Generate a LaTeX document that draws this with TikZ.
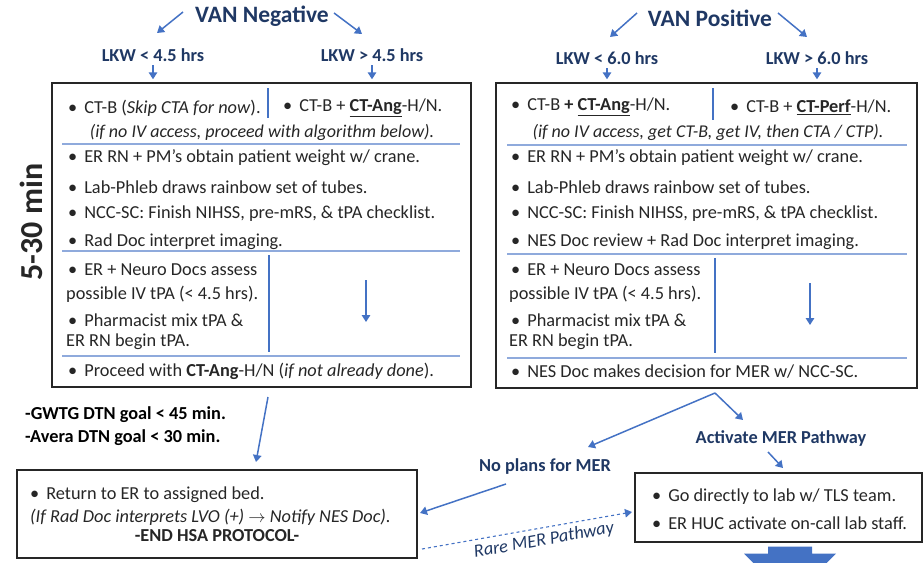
\documentclass[tikz,border=0pt]{standalone}
\usepackage{fontspec}
\setmainfont{Carlito}
\usetikzlibrary{arrows.meta,positioning,calc}
\definecolor{navy}{RGB}{31,56,100}
\definecolor{flow}{RGB}{68,114,196}
\definecolor{rulecol}{RGB}{143,170,220}
\definecolor{ink}{RGB}{38,38,38}
\newcommand{\bul}{\textbullet\hspace{7pt}}
\tikzset{
  hdr/.style={text=navy,font=\bfseries\fontsize{23.5}{26}\selectfont},
  lkw/.style={text=navy,font=\bfseries\fontsize{18.3}{21}\selectfont},
  entry/.style={anchor=west,inner sep=0pt,text=ink,font=\fontsize{18.3}{21}\selectfont},
  note/.style={inner sep=0pt,text=ink,font=\itshape\fontsize{18}{21}\selectfont},
  panel/.style={draw=black!85,line width=1.4pt,inner sep=0pt},
  flowarr/.style={draw=flow,line width=1.5pt,-{Triangle[length=7pt,width=8.5pt]}},
  divider/.style={draw=rulecol,line width=1.1pt},
  vbar/.style={draw=flow,line width=1.8pt}
}
\begin{document}
\begin{tikzpicture}[x=1pt,y=-1pt]
\useasboundingbox (0,0) rectangle (923,562);
\node[hdr] (vanneg) at (262,16) {VAN Negative};
\node[hdr] (vanpos) at (710,18) {VAN Positive};
\node[lkw] (negA) at (153,55) {LKW < 4.5 hrs};
\node[lkw] (negB) at (372,55) {LKW > 4.5 hrs};
\node[lkw] (posA) at (607,58) {LKW < 6.0 hrs};
\node[lkw] (posB) at (817,58) {LKW > 6.0 hrs};
\node[panel,minimum width=419pt,minimum height=304pt] (negbox) at (261.5,235) {};
\node[panel,minimum width=421pt,minimum height=305pt] (posbox) at (706.5,235.5) {};
\node[panel,minimum width=400pt,minimum height=88pt] (endbox) at (217,514) {};
\node[panel,minimum width=287pt,minimum height=69pt] (merbox) at (778.5,507.5) {};
\node[rotate=90,text=ink,font=\bfseries\fontsize{32}{35}\selectfont] (span) at (31,222) {5-30 min};

\draw[flowarr] ([shift={(-79,-4)}]vanneg.center) -- ([shift={(4,-22)}]negA.center);
\draw[flowarr] ([shift={(72,-3)}]vanneg.center) -- ([shift={(-10,-21)}]negB.center);
\draw[flowarr] ([shift={(-73,-5)}]vanpos.center) -- ([shift={(3,-21)}]posA.center);
\draw[flowarr] ([shift={(68,-5)}]vanpos.center) -- ([shift={(-10,-21)}]posB.center);
\draw[flowarr] (negA.south) -- (negA.south |- negbox.north) [shorten >=3pt];
\draw[flowarr] (negB.south) -- (negB.south |- negbox.north) [shorten >=3pt];
\draw[flowarr] (posA.south) -- (posA.south |- posbox.north) [shorten >=3pt];
\draw[flowarr] (posB.south) -- (posB.south |- posbox.north) [shorten >=3pt];

\node[entry] (n1) at (68,108) {\bul CT-B (\textit{Skip CTA for now}).};
\node[entry] (n2) at (283,108) {\bul CT-B + \textbf{\underline{CT-Ang}}-H/N.};
\node[note] (n3) at (262,132) {(if no IV access, proceed with algorithm below).};
\node[entry] (n4) at (68,158) {\bul ER RN + PM’s obtain patient weight w/ crane.};
\node[entry] (n5) at (68,187) {\bul Lab-Phleb draws rainbow set of tubes.};
\node[entry] (n6) at (68,214) {\bul NCC-SC: Finish NIHSS, pre-mRS, \& tPA checklist.};
\node[entry] (n7) at (68,242) {\bul Rad Doc interpret imaging.};
\node[entry] (n8) at (68,270) {\bul ER + Neuro Docs assess};
\node[entry] (n9) at (66,294) {possible IV tPA (< 4.5 hrs).};
\node[entry] (n10) at (68,320) {\bul Pharmacist mix tPA \&};
\node[entry] (n11) at (66,342) {ER RN begin tPA.};
\node[entry] (n12) at (68,371) {\bul Proceed with \textbf{CT-Ang}-H/N (\textit{if not already done}).};
\draw[vbar] (268,88) -- (268,118);
\draw[vbar] (269,255) -- (269,352);
\draw[divider] (62,144) -- (460,144);
\draw[divider] (62,251) -- (460,251);
\draw[divider] (62,356) -- (460,356);
\coordinate (negdn) at (366,280);
\draw[flowarr] (negdn) -- ++(0,42);

\node[entry] (p1) at (511,107) {\bul CT-B \textbf{+ \underline{CT-Ang}}-H/N.};
\node[entry] (p2) at (730,107) {\bul CT-B + \textbf{\underline{CT-Perf}}-H/N.};
\node[note] (p3) at (708,132) {(if no IV access, get CT-B, get IV, then CTA / CTP).};
\node[entry] (p4) at (511,158) {\bul ER RN + PM’s obtain patient weight w/ crane.};
\node[entry] (p5) at (511,187) {\bul Lab-Phleb draws rainbow set of tubes.};
\node[entry] (p6) at (511,214) {\bul NCC-SC: Finish NIHSS, pre-mRS, \& tPA checklist.};
\node[entry] (p7) at (511,242) {\bul NES Doc review + Rad Doc interpret imaging.};
\node[entry] (p8) at (511,270) {\bul ER + Neuro Docs assess};
\node[entry] (p9) at (509,294) {possible IV tPA (< 4.5 hrs).};
\node[entry] (p10) at (511,320) {\bul Pharmacist mix tPA \&};
\node[entry] (p11) at (509,342) {ER RN begin tPA.};
\node[entry] (p12) at (511,372) {\bul NES Doc makes decision for MER w/ NCC-SC.};
\draw[vbar] (713,88) -- (713,120);
\draw[vbar] (715,258) -- (715,353);
\draw[divider] (507,145) -- (907,145);
\draw[divider] (507,254) -- (907,254);
\draw[divider] (507,358) -- (907,358);
\coordinate (posdn) at (810,283);
\draw[flowarr] (posdn) -- ++(0,42);

\node[anchor=west,inner sep=0pt,font=\bfseries\fontsize{18.3}{21}\selectfont] (gwtg) at (25,415) {-GWTG DTN goal < 45 min.};
\node[anchor=west,inner sep=0pt,font=\bfseries\fontsize{18.3}{21}\selectfont] (avera) at (25,438) {-Avera DTN goal < 30 min.};
\node[lkw] (noplans) at (545,467) {No plans for MER};
\node[lkw] (activate) at (781,438) {Activate MER Pathway};

\node[entry] (e1) at (30,495) {\bul Return to ER to assigned bed.};
\node[entry] (e2) at (30,517) {\textit{(If Rad Doc interprets LVO (+) $\rightarrow$ Notify NES Doc).}};
\node[text=ink,inner sep=0pt,font=\bfseries\fontsize{18.3}{21}\selectfont] (e3) at (217,536) {-END HSA PROTOCOL-};
\node[entry] (m1) at (652,497) {\bul Go directly to lab w/ TLS team.};
\node[entry] (m2) at (652,523) {\bul ER HUC activate on-call lab staff.};

\draw[flowarr] ([shift={(6.5,162)}]negbox.center) -- ([shift={(39,-52)}]endbox.center);
\draw[flowarr] ([shift={(8.5,157.5)}]posbox.center) -- ([shift={(43,-20)}]noplans.center);
\draw[flowarr] ([shift={(8.5,157.5)}]posbox.center) -- ([shift={(-38,-18)}]activate.center);
\draw[flowarr] ([shift={(-13,14)}]activate.center) -- ([shift={(4.5,-39.5)}]merbox.center);
\draw[flowarr] ([shift={(-39,17)}]noplans.center) -- ([shift={(203,-1)}]endbox.center);
\draw[flowarr,dashed,line width=1.1pt] ([shift={(205,35)}]endbox.center) -- ([shift={(-146.5,4.5)}]merbox.center)
  node[pos=0.57,below=1pt,sloped,text=navy,font=\itshape\fontsize{18.3}{21}\selectfont] (rare) {Rare MER Pathway};
\fill[flow] ([shift={(-10.5,4)}]merbox.south) -- ++(0,7) -- ++(-24,0) -- ++(46,46) -- ++(46,-46) -- ++(-24,0) -- ++(0,-7) -- cycle;
\end{tikzpicture}
\end{document}
